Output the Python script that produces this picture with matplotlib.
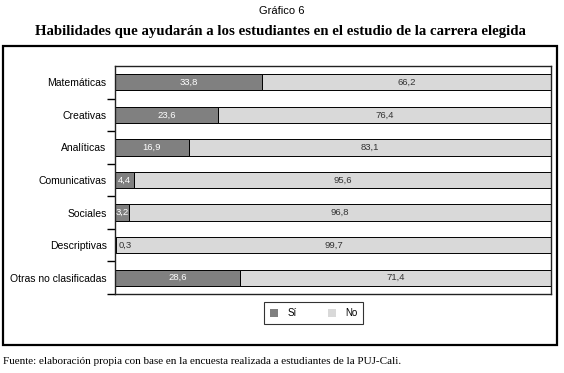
import matplotlib

matplotlib.use("Agg")
import matplotlib.pyplot as plt
from matplotlib.patches import Rectangle

categories = [
    "Matemáticas",
    "Creativas",
    "Analíticas",
    "Comunicativas",
    "Sociales",
    "Descriptivas",
    "Otras no clasificadas",
]
si_values = [33.8, 23.6, 16.9, 4.4, 3.2, 0.3, 28.6]
no_values = [66.2, 76.4, 83.1, 95.6, 96.8, 99.7, 71.4]

SI_COLOR = "#808080"
NO_COLOR = "#d9d9d9"


def fmt(v):
    return f"{v:.1f}".replace(".", ",")


fig = plt.figure(figsize=(5.64, 3.73), dpi=100)
ax = fig.add_axes([115 / 564, 1 - 294 / 373, 436 / 564, 228 / 373])

y = list(range(len(categories)))
ax.barh(y, si_values, height=0.5, color=SI_COLOR, edgecolor="black", linewidth=0.7, label="Sí")
ax.barh(y, no_values, left=si_values, height=0.5, color=NO_COLOR, edgecolor="black",
        linewidth=0.7, label="No")

for i, (s, n) in enumerate(zip(si_values, no_values)):
    if s >= 1:
        ax.text(s / 2, i, fmt(s), ha="center", va="center", fontsize=6.8, color="white",
                family="Liberation Sans")
    else:
        ax.text(s + 0.6, i, fmt(s), ha="left", va="center", fontsize=6.8, color="#333333",
                family="Liberation Sans")
    ax.text(s + n / 2, i, fmt(n), ha="center", va="center", fontsize=6.8, color="#333333",
            family="Liberation Sans")

ax.set_xlim(0, 100)
ax.set_ylim(len(categories) - 0.5, -0.5)
ax.set_xticks([])
ax.set_yticks(y)
ax.set_yticklabels(categories, fontsize=7.5, family="Liberation Sans")
ax.tick_params(axis="y", length=0, pad=6)
ax.set_yticks([i + 0.5 for i in y], minor=True)
ax.tick_params(axis="y", which="minor", length=6, width=1, direction="out")
for sp in ax.spines.values():
    sp.set_linewidth(1.0)
    sp.set_color("#222222")

leg = fig.legend(loc="center", bbox_to_anchor=(313.5 / 564, 1 - 313 / 373), ncol=2,
                 frameon=True, fancybox=False, handlelength=0.9, handleheight=0.9,
                 handletextpad=0.9, columnspacing=3.2, borderpad=0.6, borderaxespad=0,
                 prop={"family": "Liberation Sans", "size": 7})
leg.get_frame().set_edgecolor("black")
leg.get_frame().set_linewidth(0.8)
for h in leg.legend_handles:
    h.set_edgecolor("none")

fig.patches.append(Rectangle((3 / 564, 1 - 345 / 373), 554 / 564, 299 / 373,
                             transform=fig.transFigure, fill=False, edgecolor="black",
                             linewidth=1.6))

fig.text(282 / 564, 1 - 11 / 373, "Gráfico 6", ha="center", va="center", fontsize=8,
         family="Liberation Sans")
fig.text(280 / 564, 1 - 31 / 373,
         "Habilidades que ayudarán a los estudiantes en el estudio de la carrera elegida",
         ha="center", va="center", fontsize=10.7, fontweight="bold", family="Liberation Serif")
fig.text(3 / 564, 1 - 362 / 373,
         "Fuente: elaboración propia con base en la encuesta realizada a estudiantes de la PUJ-Cali.",
         ha="left", va="center", fontsize=8, family="Liberation Serif")

fig.savefig("out.png", dpi=100)
